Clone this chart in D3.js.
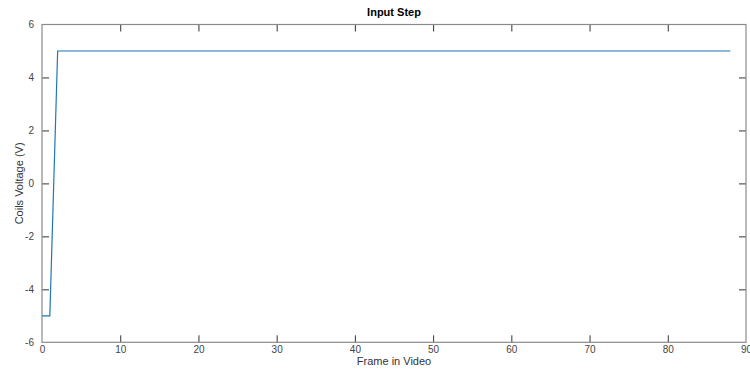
<!DOCTYPE html>
<html><head><meta charset="utf-8">
<script src="https://cdn.jsdelivr.net/npm/d3@7"></script>
<style>body{margin:0;background:#fff}svg{display:block}</style>
</head><body><svg id="c" width="750" height="370"></svg>
<script>
const frames = d3.range(0, 89);
const voltage = frames.map(f => f < 2 ? -5 : 5);
const xTicks = [0,10,20,30,40,50,60,70,80,90];
const yTicks = [-6,-4,-2,0,2,4,6];
const title = "Input Step", xLabel = "Frame in Video", yLabel = "Coils Voltage (V)";

const svg = d3.select("#c");
const L=42, R=746, T=24.5, B=342.3;
const x = d3.scaleLinear().domain([0,90]).range([L,R]);
const y = d3.scaleLinear().domain([-6,6]).range([B,T]);
const font = "Liberation Sans, Arial, sans-serif";
const axCol = "#8a8a8a", tickCol="#333";
const fmt = d => String(d);

function styleAxis(g, showLabels){
  g.select(".domain").remove();
  g.selectAll(".tick line").attr("stroke", tickCol).attr("stroke-width",1);
  g.selectAll(".tick text").attr("font-family",font).attr("font-size",10).attr("fill","#444");
  if(!showLabels) g.selectAll(".tick text").remove();
}
svg.append("g").attr("transform",`translate(0,${B})`)
  .call(d3.axisBottom(x).tickValues(xTicks).tickFormat(fmt).tickSizeInner(-7).tickSizeOuter(0).tickPadding(4))
  .call(g=>styleAxis(g,true))
  .call(g=>g.selectAll(".tick").filter(d=>d===0||d===90).select("line").remove());
svg.append("g").attr("transform",`translate(0,${T})`)
  .call(d3.axisTop(x).tickValues(xTicks).tickSizeInner(-7).tickSizeOuter(0))
  .call(g=>styleAxis(g,false))
  .call(g=>g.selectAll(".tick").filter(d=>d===0||d===90).remove());
svg.append("g").attr("transform",`translate(${L},0)`)
  .call(d3.axisLeft(y).tickValues(yTicks).tickFormat(fmt).tickSizeInner(-7).tickSizeOuter(0).tickPadding(8))
  .call(g=>styleAxis(g,true))
  .call(g=>g.selectAll(".tick").filter(d=>d===-6||d===6).select("line").remove());
svg.append("g").attr("transform",`translate(${R},0)`)
  .call(d3.axisRight(y).tickValues(yTicks).tickSizeInner(-7).tickSizeOuter(0))
  .call(g=>styleAxis(g,false))
  .call(g=>g.selectAll(".tick").filter(d=>d===-6||d===6).remove());

svg.append("rect").attr("x",L).attr("y",T).attr("width",R-L).attr("height",B-T)
  .attr("fill","none").attr("stroke",axCol).attr("stroke-width",1.2);

svg.append("path").datum(frames.map((f,i)=>[f,voltage[i]]))
  .attr("fill","none").attr("stroke","#1f77b4").attr("stroke-width",1.2)
  .attr("d", d3.line().x(d=>x(d[0])).y(d=>y(d[1])));

svg.append("text").attr("x",(L+R)/2).attr("y",16).attr("text-anchor","middle")
  .attr("font-family",font).attr("font-size",11).attr("font-weight","bold").attr("fill","#000").text(title);
svg.append("text").attr("x",(L+R)/2).attr("y",365).attr("text-anchor","middle")
  .attr("font-family",font).attr("font-size",11).attr("fill","#333").text(xLabel);
svg.append("text").attr("transform",`translate(23,${(T+B)/2}) rotate(-90)`).attr("text-anchor","middle")
  .attr("font-family",font).attr("font-size",11).attr("fill","#333").text(yLabel);
</script></body></html>
